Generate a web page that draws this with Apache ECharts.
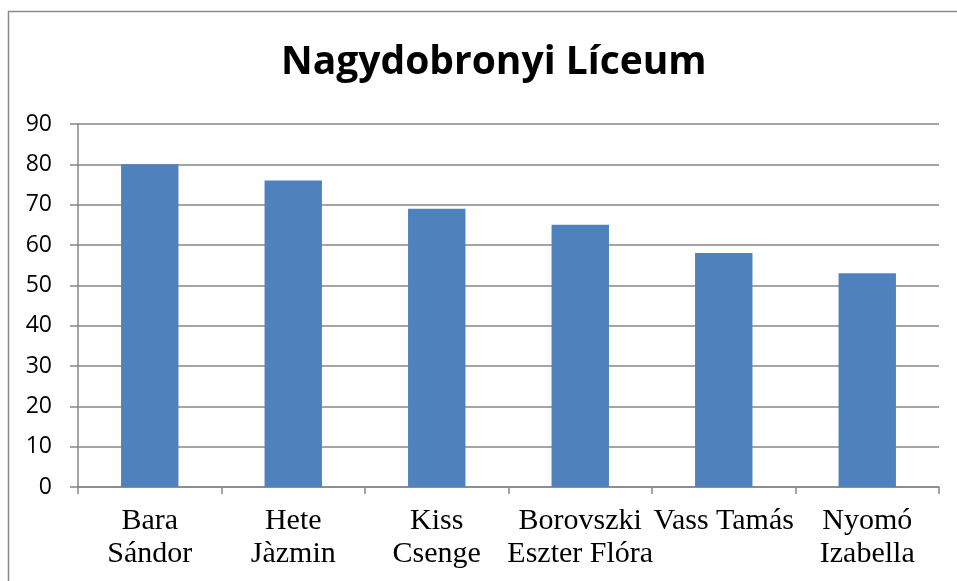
<!DOCTYPE html>
<html>
<head>
<meta charset="utf-8">
<script src="https://cdn.jsdelivr.net/npm/echarts@6/dist/echarts.min.js"></script>
<style>html,body{margin:0;padding:0;background:#fff;}#c{width:957px;height:581px;}</style>
</head>
<body>
<div id="c"></div>
<script>
const titleText = "Nagydobronyi Líceum";
const categories = ["Bara\nSándor", "Hete\nJàzmin", "Kiss\nCsenge", "Borovszki\nEszter Flóra", "Vass Tamás", "Nyomó\nIzabella"];
const values = [80, 76, 69, 65, 58, 53];
const yMin = 0, yMax = 90, yStep = 10;

const chart = echarts.init(document.getElementById('c'), null, {renderer: 'canvas'});
chart.setOption({
  animation: false,
  backgroundColor: '#fff',
  graphic: [{
    type: 'rect', silent: true,
    shape: {x: 8.5, y: 11.5, width: 1200, height: 1200},
    style: {fill: 'none', stroke: '#8a8a8a', lineWidth: 1.5}
  }],
  title: {
    text: titleText, left: 276, top: 38,
    textStyle: {fontFamily: 'Open Sans', fontWeight: 'bold', fontSize: 39, color: '#000'}
  },
  grid: {left: 78, right: 18, top: 124, bottom: 94, containLabel: false},
  xAxis: {
    type: 'category', data: categories,
    axisLine: {lineStyle: {color: '#878787', width: 1.5}},
    axisTick: {show: true, length: 7, lineStyle: {color: '#878787', width: 1.5}},
    axisLabel: {fontFamily: 'Liberation Serif', fontSize: 30, color: '#000', lineHeight: 33, margin: 18, interval: 0}
  },
  yAxis: {
    type: 'value', min: yMin, max: yMax, interval: yStep,
    axisLine: {show: true, lineStyle: {color: '#878787', width: 1.5}},
    axisTick: {show: true, length: 8, lineStyle: {color: '#878787', width: 1.5}},
    splitLine: {show: true, lineStyle: {color: '#878787', width: 1.5}},
    axisLabel: {fontFamily: 'Open Sans', fontSize: 23, color: '#000', margin: 26}
  },
  series: [{
    type: 'bar', data: values, barWidth: '40%',
    itemStyle: {color: '#4F81BD'}
  }]
});
</script>
</body>
</html>
